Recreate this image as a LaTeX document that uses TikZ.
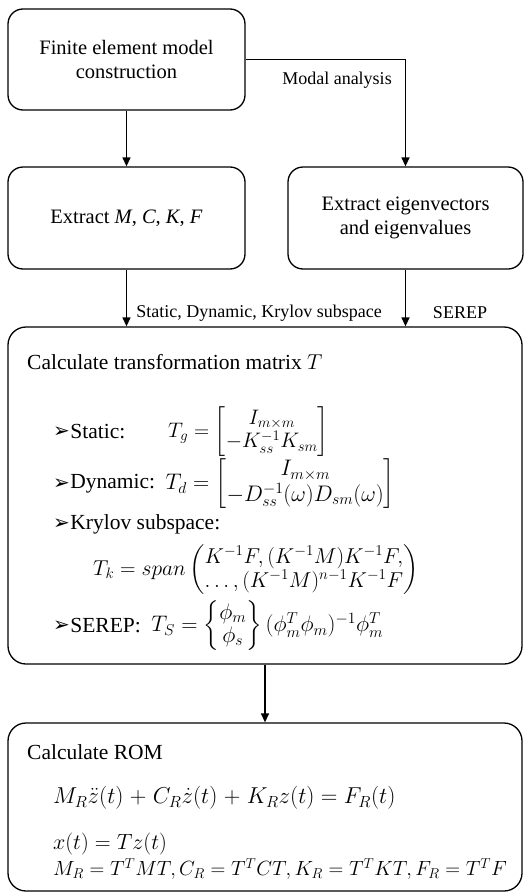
\RequirePackage{fix-cm}
\documentclass[tikz,border=0pt]{standalone}
\usepackage{amsmath}
\usepackage{fontspec}
\setmainfont{Liberation Serif}
\newfontfamily\dingfont{DejaVu Sans}
\usetikzlibrary{arrows.meta}
\tikzset{
  box/.style={draw, line width=1.3pt, rounded corners=15pt, align=center, inner sep=0pt, font=\fontsize{20.5}{24}\selectfont},
  bigbox/.style={draw, line width=1.3pt, rounded corners=18pt, inner sep=0pt},
  arr/.style={line width=1.3pt, -{Triangle[length=9pt,width=8pt]}},
  lbl/.style={font=\fontsize{18}{20}\selectfont, inner sep=0pt},
  txt/.style={anchor=west, inner sep=0pt, font=\fontsize{21.5}{25}\selectfont},
  bul/.style={anchor=west, inner sep=0pt, font=\dingfont\fontsize{20}{22}\selectfont},
  mth/.style={anchor=west, inner sep=0pt, font=\fontsize{22.5}{27}\selectfont},
}
\begin{document}
\begin{tikzpicture}[x=1pt,y=-1pt]
\useasboundingbox (0,0) rectangle (530,894);
\node[box, minimum width=237pt, minimum height=101pt] (b1) at (126.5,59.5) {Finite element model\\construction};
\node[box, minimum width=237pt, minimum height=102pt] (b2) at (126.5,218) {Extract \textit{M}, \textit{C}, \textit{K}, \textit{F}};
\node[box, minimum width=235pt, minimum height=102pt] (b3) at (405.5,218) {Extract eigenvectors\\and eigenvalues};
\node[bigbox, minimum width=514pt, minimum height=337pt] (b4) at (265,495.5) {};
\node[bigbox, minimum width=514pt, minimum height=168pt] (b5) at (265,807) {};

\draw[arr] (b1.south) -- (b2.north);
\draw[arr] (b1.east) -| (b3.north);
\draw[arr] (b2.south) -- (b2.south |- b4.north);
\draw[arr] (b3.south) -- (b3.south |- b4.north);
\draw[arr] (b4.south) -- (b5.north);

\node[lbl] (l1) at (337,80) {Modal analysis};
\node[lbl] (l2) at (259,313) {Static, Dynamic, Krylov subspace};
\node[lbl] (l3) at (460,313) {SEREP};

\node[txt] (t0) at (27,362) {Calculate transformation matrix $T$};

\node[bul] (k1) at (53,432) {➢};
\node[txt] (t1) at (k1.east) {Static:};
\node[mth, font=\fontsize{21}{25}\selectfont] (m1) at (168,432) {$\renewcommand{\arraystretch}{0.85}T_g = \begin{bmatrix} I_{m\times m}\\ -K_{ss}^{-1}K_{sm}\end{bmatrix}$};

\node[bul] (k2) at (53,484) {➢};
\node[txt] (t2) at (k2.east) {Dynamic:};
\node[mth] (m2) at ([xshift=10pt]t2.east) {$\renewcommand{\arraystretch}{0.85}T_d = \begin{bmatrix} I_{m\times m}\\ -D_{ss}^{-1}(\omega)D_{sm}(\omega)\end{bmatrix}$};

\node[bul] (k3) at (53,524) {➢};
\node[txt] (t3) at (k3.east) {Krylov subspace:};
\node[mth, font=\fontsize{21.5}{26}\selectfont] (m3) at (93,570) {$\renewcommand{\arraystretch}{0.85}T_k = span\begin{pmatrix} K^{-1}F,(K^{-1}M)K^{-1}F,\\ \ldots,(K^{-1}M)^{n-1}K^{-1}F\end{pmatrix}$};

\node[bul] (k4) at (53,626) {➢};
\node[txt] (t4) at (k4.east) {SEREP:};
\node[mth] (m4) at ([xshift=10pt]t4.east) {$\renewcommand{\arraystretch}{0.85}T_S = \begin{Bmatrix}\phi_m\\ \phi_s\end{Bmatrix}(\phi_m^T\phi_m)^{-1}\phi_m^T$};

\node[txt] (r0) at (27,752) {Calculate ROM};
\node[mth, font=\fontsize{23}{27}\selectfont] (r1) at (53,798) {$\medmuskip=5mu M_R\ddot z(t)+C_R\dot z(t)+K_Rz(t)=F_R(t)$};
\node[mth, font=\fontsize{22}{26}\selectfont] (r2) at (53,844) {$x(t)=Tz(t)$};
\node[mth, font=\fontsize{20.5}{24}\selectfont] (r3) at (53,869) {$M_R=T^TMT, C_R=T^TCT, K_R=T^TKT, F_R=T^TF$};
\end{tikzpicture}
\end{document}
